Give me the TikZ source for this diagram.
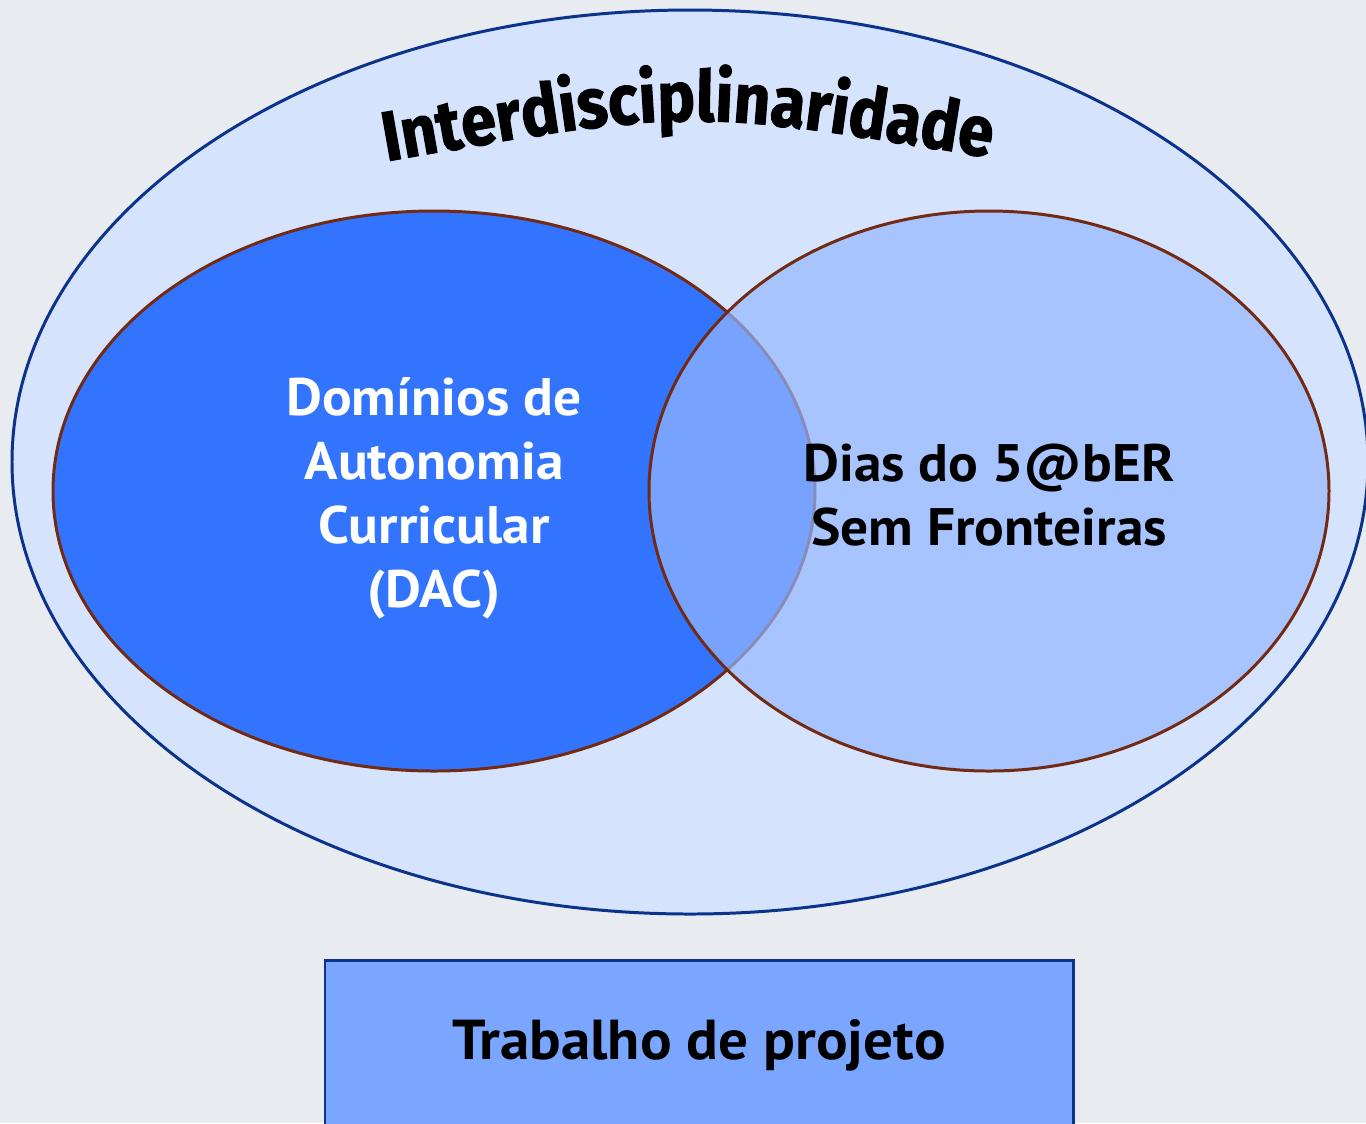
\documentclass[tikz,border=0pt]{standalone}
\usepackage{fontspec}
\setmainfont{PT Sans}[FakeStretch=1.05]
\newfontfamily\artfont{Fira Sans}[FakeStretch=0.9,BoldFeatures={FakeBold=1.5}]
\usetikzlibrary{decorations.text}
\definecolor{bgpaper}{HTML}{E8ECF0}
\definecolor{outerfill}{HTML}{D5E3FD}
\definecolor{outerline}{HTML}{0B338C}
\definecolor{dacfill}{HTML}{3374FF}
\definecolor{vennline}{HTML}{722A12}
\definecolor{saberfill}{HTML}{95B7FF}
\definecolor{boxfill}{HTML}{7AA6FF}
\tikzset{
  vennset/.style={draw=vennline, line width=0.85pt},
  textlab/.style={font=\bfseries\fontsize{15}{18.2}\selectfont, align=center},
}
\begin{document}
\begin{tikzpicture}[x=0.01cm, y=-0.01cm]
      \useasboundingbox (0,0) rectangle (1366,1123);
      \clip (0,0) rectangle (1366,1123);
      \fill[bgpaper] (0,0) rectangle (1366,1123);
      \draw[outerline, fill=outerfill, line width=0.85pt]
        (690,462) ellipse [x radius=678, y radius=452];
      \draw[vennset, fill=dacfill]
        (434,491) ellipse [x radius=381, y radius=280];
      \draw[vennset, fill=saberfill, fill opacity=0.7]
        (989,491) ellipse [x radius=340, y radius=280];
      \path[decorate, decoration={text along path, text align=center,
          text={|\artfont\bfseries\fontsize{20}{24}\selectfont|Interdisciplinaridade}}]
        (383,162) .. controls (688,108) .. (993,158);
      \node[textlab, white] (dac) at (434,498)
        {Domínios de\\Autonomia\\Curricular\\(DAC)};
      \node[textlab] (saber) at (989,495)
        {Dias do 5@bER\\Sem Fronteiras};
      \draw[outerline, fill=boxfill, line width=0.85pt]
        (325,960) rectangle (1073,1140);
      \node[textlab, font=\bfseries\fontsize{16}{19}\selectfont] (projeto) at (699,1045)
        {Trabalho de projeto};
    \end{tikzpicture}
\end{document}
